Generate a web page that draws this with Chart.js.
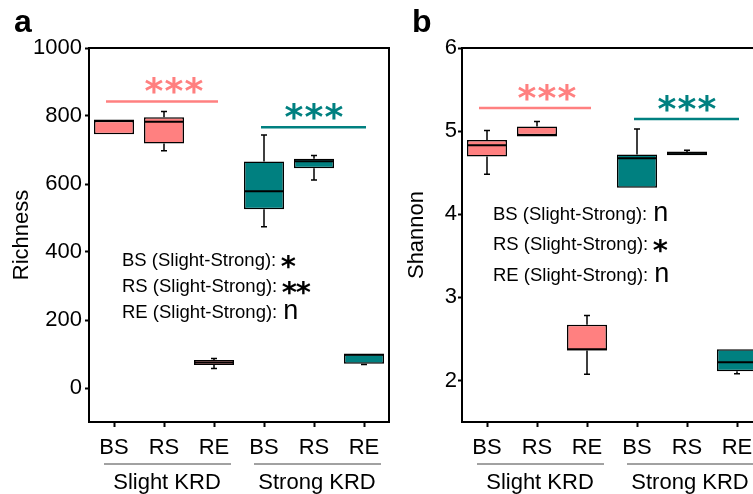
<!DOCTYPE html>
<html>
<head>
<meta charset="utf-8">
<script src="https://cdn.jsdelivr.net/npm/chart.js@4.4.0/dist/chart.umd.min.js"></script>
<style>
  html, body { margin: 0; padding: 0; background: #fff; overflow: hidden; }
  body { width: 753px; height: 494px; position: relative; }
  canvas { position: absolute; top: 0; }
  #richChart { left: 0; }
  #shanChart { left: 395px; }
</style>
</head>
<body>
<canvas id="richChart" width="395" height="494"></canvas>
<canvas id="shanChart" width="400" height="494"></canvas>
<script>
"use strict"

const categories = ['BS', 'RS', 'RE', 'BS', 'RS', 'RE'];
const groupNames = ['Slight KRD', 'Strong KRD'];
const pairLabels = ['BS (Slight-Strong):', 'RS (Slight-Strong):', 'RE (Slight-Strong):'];

// Richness (panel a)
const richMin = [746, 698, 57, 474, 612, 69];
const richQ1  = [746, 719, 68, 526, 646, 71];
const richMed = [786, 783, 75, 579, 667, 98];
const richQ3  = [786, 796, 82, 666, 674, 100];
const richMax = [786, 813, 87, 744, 684, 100];
const richTicks = [0, 200, 400, 600, 800, 1000];
const richSig = [843, 767];
const richMarks = ['*', '**', 'n'];

// Shannon (panel b)
const shanMin = [4.48, 4.95, 2.075, 4.32, 4.71, 2.08];
const shanQ1  = [4.695, 4.95, 2.36, 4.32, 4.71, 2.11];
const shanMed = [4.83, 4.95, 2.375, 4.674, 4.74, 2.22];
const shanQ3  = [4.894, 5.054, 2.67, 4.72, 4.75, 2.375];
const shanMax = [5.006, 5.117, 2.78, 5.026, 4.77, 2.375];
const shanTicks = [2, 3, 4, 5, 6];
const shanSig = [5.278, 5.146];
const shanMarks = ['n', '*', 'n'];

const pink = '#FF8080';
const teal = '#008080';
const FONT = '"Liberation Sans", Arial, sans-serif';
const STAR_FONT = '"DejaVu Sans", sans-serif';

// draw one asterisk with its ink centred on (cx, cy)
function star(ctx, cx, cy, size) {
  ctx.font = 'bold ' + size + 'px ' + STAR_FONT;
  const m = ctx.measureText('*');
  const base = cy + (m.actualBoundingBoxAscent - m.actualBoundingBoxDescent) / 2;
  const mid = (m.actualBoundingBoxRight - m.actualBoundingBoxLeft) / 2;
  ctx.textAlign = 'left';
  ctx.fillText('*', cx - mid, base);
}

function makeChart(id, o) {
  const boxPlugin = {
    id: 'boxes_' + id,
    afterDatasetsDraw(chart) {
      const ctx = chart.ctx;
      const y = chart.scales.y;
      const meta = chart.getDatasetMeta(0);
      ctx.save();
      ctx.strokeStyle = '#000';
      ctx.lineWidth = 1.5;
      meta.data.forEach((bar, i) => {
        const cx = bar.x;
        const top = y.getPixelForValue(o.q3[i]);
        const bot = y.getPixelForValue(o.q1[i]);
        const yMax = y.getPixelForValue(o.max[i]);
        const yMin = y.getPixelForValue(o.min[i]);
        ctx.beginPath();
        if (o.max[i] > o.q3[i]) {
          ctx.moveTo(cx, top); ctx.lineTo(cx, yMax);
          ctx.moveTo(cx - 3, yMax); ctx.lineTo(cx + 3, yMax);
        }
        if (o.min[i] < o.q1[i]) {
          ctx.moveTo(cx, bot); ctx.lineTo(cx, yMin);
          ctx.moveTo(cx - 3, yMin); ctx.lineTo(cx + 3, yMin);
        }
        ctx.stroke();
        ctx.lineWidth = 2;
        const ym = y.getPixelForValue(o.med[i]);
        ctx.beginPath();
        ctx.moveTo(cx - bar.width / 2, ym); ctx.lineTo(cx + bar.width / 2, ym);
        ctx.stroke();
        ctx.lineWidth = 1.5;
      });
      ctx.restore();
    },
    afterDraw(chart) {
      const ctx = chart.ctx;
      const a = chart.chartArea;
      const x = chart.scales.x;
      const y = chart.scales.y;
      ctx.save();
      // frame
      ctx.strokeStyle = '#000';
      ctx.lineWidth = 2;
      ctx.strokeRect(a.left, a.top, a.right - a.left, a.bottom - a.top);

      // significance bars
      const sigCol = [pink, teal];
      const sigFrom = [x.getPixelForValue(0) - 8, x.getPixelForValue(3) - 3];
      const sigTo = [x.getPixelForValue(2) + 4, x.getPixelForValue(5) + 2];
      const starX = [x.getPixelForValue(1) + 10, x.getPixelForValue(4)];
      for (let g = 0; g < 2; g++) {
        const ly = y.getPixelForValue(o.sig[g]);
        ctx.strokeStyle = sigCol[g];
        ctx.lineWidth = 2.5;
        ctx.beginPath();
        ctx.moveTo(sigFrom[g], ly); ctx.lineTo(sigTo[g], ly);
        ctx.stroke();
        ctx.fillStyle = sigCol[g];
        for (let s = -1; s <= 1; s++) {
          star(ctx, starX[g] + s * 20, ly - 15.5, 36);
        }
      }

      // pairwise notes
      ctx.fillStyle = '#000';
      for (let k = 0; k < 3; k++) {
        const bx = a.left + o.noteX;
        const by = o.noteY[k];
        ctx.textAlign = 'left';
        ctx.font = '18.5px ' + FONT;
        ctx.fillText(pairLabels[k], bx, by);
        const w = ctx.measureText(pairLabels[k]).width;
        if (o.marks[k] === 'n') {
          ctx.font = '27px ' + FONT;
          ctx.fillText('n', bx + w + 6, by + 1);
        } else {
          for (let s = 0; s < o.marks[k].length; s++) {
            star(ctx, bx + w + 12 + s * 14, by - 4.5, 29);
          }
        }
      }

      // group labels
      ctx.textAlign = 'center';
      ctx.font = '22px ' + FONT;
      for (let g = 0; g < 2; g++) {
        const x0 = x.getPixelForValue(g * 3) - 10;
        const x1 = x.getPixelForValue(g * 3 + 2) + 17;
        ctx.strokeStyle = '#444';
        ctx.lineWidth = 1;
        ctx.beginPath();
        ctx.moveTo(x0, a.bottom + 42); ctx.lineTo(x1, a.bottom + 42);
        ctx.stroke();
        ctx.fillText(groupNames[g], x.getPixelForValue(g * 3 + 1) + 3, a.bottom + 67);
      }

      // axis title
      ctx.save();
      ctx.translate(o.titleX, (a.top + a.bottom) / 2);
      ctx.rotate(-Math.PI / 2);
      ctx.textBaseline = 'middle';
      ctx.fillText(o.title, 0, 0);
      ctx.restore();

      // panel letter
      ctx.textAlign = 'left';
      ctx.font = 'bold 32px ' + FONT;
      ctx.fillText(o.letter, o.letterX, 32);
      ctx.restore();
    }
  };

  const colors = categories.map((c, i) => i < 3 ? pink : teal);

  return new Chart(document.getElementById(id), {
    type: 'bar',
    data: {
      labels: categories,
      datasets: [{
        data: o.q1.map((v, i) => [v, o.q3[i]]),
        backgroundColor: colors,
        borderColor: '#000',
        borderWidth: 1.5,
        borderSkipped: false,
        barPercentage: 0.8,
        categoryPercentage: 1.0
      }]
    },
    options: {
      responsive: false,
      animation: false,
      devicePixelRatio: 1,
      layout: { padding: { top: 48, right: o.padRight, left: 0, bottom: 0 } },
      plugins: { legend: { display: false }, tooltip: { enabled: false } },
      scales: {
        x: {
          offset: true,
          border: { display: false },
          grid: { offset: false, drawOnChartArea: false, drawTicks: true, tickLength: 5, tickColor: '#000', tickWidth: 2 },
          ticks: { color: '#000', padding: 8, font: { family: FONT, size: 22 } },
          afterFit(s) { s.height = 72; }
        },
        y: {
          min: o.yMin,
          max: o.yMax,
          border: { display: false },
          grid: { drawOnChartArea: false, drawTicks: true, tickLength: 4, tickColor: '#000', tickWidth: 2 },
          ticks: { color: '#000', padding: o.tickPad, font: { family: FONT, size: 22 }, callback: v => String(v) },
          afterBuildTicks(s) { s.ticks = o.ticks.map(v => ({ value: v })); },
          afterFit(s) { s.width = o.axisWidth; }
        }
      }
    },
    plugins: [boxPlugin]
  });
}

makeChart('richChart', {
  min: richMin, q1: richQ1, med: richMed, q3: richQ3, max: richMax,
  ticks: richTicks, yMin: -100, yMax: 1000, sig: richSig, marks: richMarks,
  axisWidth: 89, padRight: 6, tickPad: 3,
  noteX: 33, noteY: [266, 292, 318],
  title: 'Richness', titleX: 22, letter: 'a', letterX: 14
});

makeChart('shanChart', {
  min: shanMin, q1: shanQ1, med: shanMed, q3: shanQ3, max: shanMax,
  ticks: shanTicks, yMin: 1.5, yMax: 6, sig: shanSig, marks: shanMarks,
  axisWidth: 67, padRight: 33, tickPad: 1,
  noteX: 31, noteY: [220, 250, 281],
  title: 'Shannon', titleX: 22, letter: 'b', letterX: 17
});
</script>
</body>
</html>
